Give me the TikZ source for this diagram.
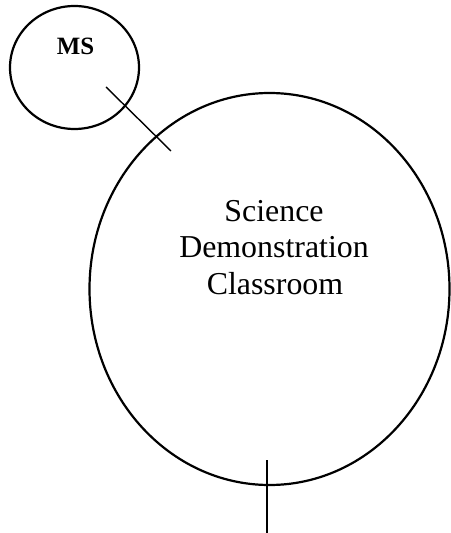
\documentclass[tikz,border=0pt]{standalone}
\usepackage{fontspec}
\setmainfont{Liberation Serif}
\usetikzlibrary{shapes.geometric}
\begin{document}
\begin{tikzpicture}[x=1bp,y=-1bp,
  roomshape/.style={draw=black, line width=2.2bp, ellipse, inner sep=0pt, outer sep=0pt},
  wallline/.style={draw=black, line width=1.4bp},
  bigtext/.style={anchor=base, inner sep=0pt, font=\fontsize{32}{37}\selectfont},
  smalltext/.style={anchor=base, inner sep=0pt, font=\bfseries\fontsize{25}{28}\selectfont}]
\useasboundingbox (0,0) rectangle (451,533);
\node[roomshape, minimum width=129bp, minimum height=123bp] (ms) at (74.5,67.5) {};
\node[roomshape, minimum width=360bp, minimum height=392bp] (sdc) at (269.5,289) {};
\node[smalltext] (mslabel) at (75.5,55) {MS};
\node[bigtext] (t1) at (274,221) {Science};
\node[bigtext] (t2) at (274,257.5) {Demonstration};
\node[bigtext] (t3) at (275,294) {Classroom};
\coordinate (da) at (106,87);
\coordinate (db) at (171,151);
\coordinate (ea) at (267,460);
\coordinate (eb) at (267,533);
\draw[wallline] (da) -- (db);
\draw[wallline] (ea) -- (eb);
\end{tikzpicture}
\end{document}
